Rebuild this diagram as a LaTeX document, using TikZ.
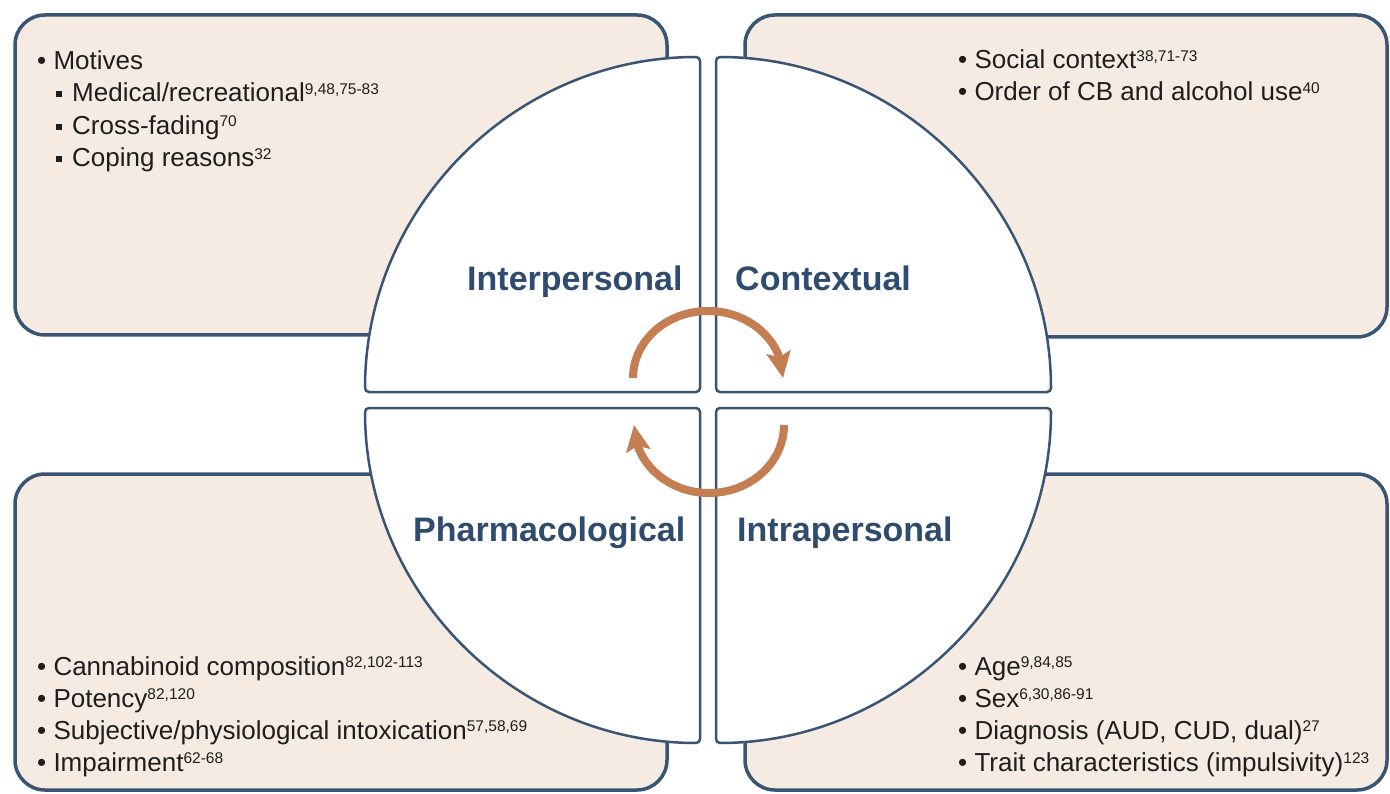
\documentclass[tikz,border=0pt]{standalone}
\usepackage{fontspec}
\setmainfont{Liberation Sans}
\usetikzlibrary{arrows.meta,bending}
\definecolor{bordblue}{HTML}{3A5473}
\definecolor{labblue}{HTML}{2F4B6E}
\definecolor{boxfill}{HTML}{F5EBE2}
\definecolor{arrorange}{HTML}{C47E52}
\definecolor{txtcol}{HTML}{1E1E1E}
\newcommand\refsup[1]{\raisebox{7.5pt}{\fontsize{15.5}{16}\selectfont #1}}
\newcommand\sqbul{\llap{\raisebox{4.5pt}{\rule{6pt}{6pt}}\hspace{10pt}}}
\begin{document}
\begin{tikzpicture}[x=1pt,y=-1pt,
  box/.style={draw=bordblue, line width=3.5pt, fill=boxfill, rounded corners=30pt},
  sector/.style={draw=bordblue, line width=2.5pt, fill=white, rounded corners=4pt},
  lab/.style={text=labblue, font=\fontsize{34}{40}\selectfont\bfseries, anchor=base west, inner sep=0pt},
  item/.style={text=txtcol, font=\fontsize{26}{32}\selectfont, anchor=base west, inner sep=0pt},
  cyc/.style={draw=arrorange, line width=8pt, -{Stealth[length=26pt,width=24pt,inset=5pt]}}
]
\useasboundingbox (0,0) rectangle (1390,794);
% boxes
\draw[box] (15,15) rectangle (667,335);
\draw[box] (745,15) rectangle (1387,337);
\draw[box] (15,474) rectangle (667,790);
\draw[box] (745,474) rectangle (1387,790);
% sectors
\draw[sector] (700,392) -- (365,392) arc[start angle=180, end angle=270, radius=335] -- cycle;
\draw[sector] (716,392) -- (716,57) arc[start angle=270, end angle=360, radius=335] -- cycle;
\draw[sector] (700,408) -- (365,408) arc[start angle=180, end angle=90, radius=335] -- cycle;
\draw[sector] (716,408) -- (716,743) arc[start angle=90, end angle=0, radius=335] -- cycle;
% cycle arrows
\coordinate (topstart) at (633,378);
\coordinate (botstart) at (784,425);
\draw[cyc] (topstart) arc[start angle=180, end angle=360, x radius=75, y radius=67];
\draw[cyc] (botstart) arc[start angle=0, end angle=180, x radius=75, y radius=68];
% labels
\node[lab] (inter) at (467,291) {Interpersonal};
\node[lab] (context) at (735,291) {Contextual};
\node[lab] (pharm) at (413,541) {Pharmacological};
\node[lab] (intra) at (737,541) {Intrapersonal};
% top-left items
\node[item] (m0) at (37,70) {• Motives};
\node[item] (m1) at (72,102) {\sqbul Medical/recreational\refsup{9,48,75-83}};
\node[item] (m2) at (72,134.5) {\sqbul Cross-fading\refsup{70}};
\node[item] (m3) at (72,167) {\sqbul Coping reasons\refsup{32}};
% top-right items
\node[item] (c0) at (958,69) {• Social context\refsup{38,71-73}};
\node[item] (c1) at (958,101) {• Order of CB and alcohol use\refsup{40}};
% bottom-left items
\node[item] (p0) at (37,675) {• Cannabinoid composition\refsup{82,102-113}};
\node[item] (p1) at (37,707) {• Potency\refsup{82,120}};
\node[item] (p2) at (37,739) {• Subjective/physiological intoxication\refsup{57,58,69}};
\node[item] (p3) at (37,771) {• Impairment\refsup{62-68}};
% bottom-right items
\node[item] (i0) at (958,675) {• Age\refsup{9,84,85}};
\node[item] (i1) at (958,707) {• Sex\refsup{6,30,86-91}};
\node[item] (i2) at (958,739) {• Diagnosis (AUD, CUD, dual)\refsup{27}};
\node[item] (i3) at (958,771) {• Trait characteristics (impulsivity)\refsup{123}};
\end{tikzpicture}
\end{document}
